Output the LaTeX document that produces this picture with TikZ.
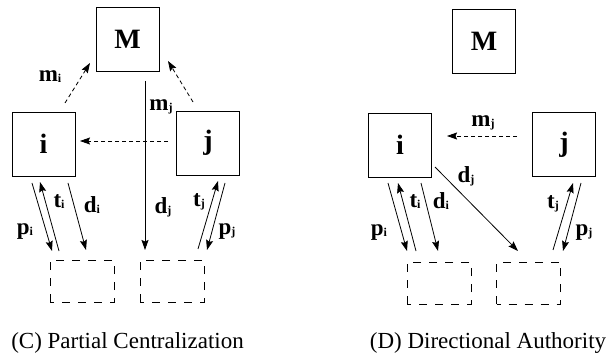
\documentclass[tikz,border=0pt]{standalone}
\usepackage{fontspec}
\setmainfont{Liberation Serif}
\usetikzlibrary{arrows.meta}
\newcommand{\lbl}[2]{\textbf{#1\raisebox{-1pt}{\fontsize{12}{12}\selectfont #2}}}
\begin{document}
\begin{tikzpicture}[x=1pt,y=-1pt,
  box/.style={draw, line width=0.9pt, inner sep=0pt, minimum width=63pt, minimum height=64pt, font=\fontsize{28}{28}\selectfont\bfseries},
  dbox/.style={draw, line width=0.9pt, dash pattern=on 8pt off 8pt, dash phase=4pt, minimum width=64pt, minimum height=42pt},
  arr/.style={-{Stealth[length=10pt,width=7pt,inset=1.5pt]}, line width=0.8pt},
  darr/.style={arr, dash pattern=on 4pt off 3pt},
  lab/.style={font=\fontsize{23}{23}\selectfont, inner sep=0pt},
  captext/.style={font=\fontsize{23}{23}\selectfont, inner sep=0pt, anchor=base}]
\useasboundingbox (0,0) rectangle (610,358);
% ---------- left panel (C) ----------
\node[box] (LM) at (127.5,39.5) {M};
\node[box] (Li) at (43.5,144) {i};
\node[box] (Lj) at (208,143) {j};
\node[dbox] (Ld1) at (82,281) {};
\node[dbox] (Ld2) at (172,281) {};
\coordinate (Lmi0) at (65,103); \coordinate (Lmi1) at (90,63);
\coordinate (Lmj0) at (193,102); \coordinate (Lmj1) at (168,61);
\coordinate (Lji0) at (168,141); \coordinate (Lji1) at (80,141);
\coordinate (Ldj0) at (145,81); \coordinate (Ldj1) at (145,250);
\coordinate (Lpi0) at (32,183); \coordinate (Lpi1) at (52,251);
\coordinate (Lti0) at (59,251); \coordinate (Lti1) at (40,182);
\coordinate (Ldi0) at (68,183); \coordinate (Ldi1) at (86,250);
\coordinate (Ltj0) at (198,249); \coordinate (Ltj1) at (218,181);
\coordinate (Lpj0) at (225,183); \coordinate (Lpj1) at (207,250);
\draw[darr] (Lmi0) -- (Lmi1);
\draw[darr] (Lmj0) -- (Lmj1);
\draw[darr] (Lji0) -- (Lji1);
\draw[arr] (Ldj0) -- (Ldj1);
\draw[arr] (Lpi0) -- (Lpi1);
\draw[arr] (Lti0) -- (Lti1);
\draw[arr] (Ldi0) -- (Ldi1);
\draw[arr] (Ltj0) -- (Ltj1);
\draw[arr] (Lpj0) -- (Lpj1);
\node[lab] (Llmi) at (50,77) {\lbl{m}{i}};
\node[lab] (Llmj) at (161,107) {\lbl{m}{j}};
\node[lab] (Llti) at (59,202) {\lbl{t}{i}};
\node[lab] (Lldi) at (92,205) {\lbl{d}{i}};
\node[lab] (Llpi) at (25,232) {\lbl{p}{i}};
\node[lab] (Lldj) at (163,207) {\lbl{d}{j}};
\node[lab] (Lltj) at (199,202) {\lbl{t}{j}};
\node[lab] (Llpj) at (227,232) {\lbl{p}{j}};
\node[captext] (Lcap) at (127.5,348) {(C) Partial Centralization};
% ---------- right panel (D) ----------
\node[box] (RM) at (484,41.5) {M};
\node[box] (Ri) at (400,145) {i};
\node[box] (Rj) at (564,144.5) {j};
\node[dbox] (Rd1) at (439,283) {};
\node[dbox] (Rd2) at (528.5,283) {};
\coordinate (Rmj0) at (517,136); \coordinate (Rmj1) at (447,136);
\coordinate (Rdj0) at (435,167); \coordinate (Rdj1) at (518,251);
\coordinate (Rpi0) at (388,183); \coordinate (Rpi1) at (407,251);
\coordinate (Rti0) at (416,251); \coordinate (Rti1) at (398,183);
\coordinate (Rdi0) at (421,183); \coordinate (Rdi1) at (438,251);
\coordinate (Rtj0) at (553,250); \coordinate (Rtj1) at (573,183);
\coordinate (Rpj0) at (581,183); \coordinate (Rpj1) at (563,251);
\draw[darr] (Rmj0) -- (Rmj1);
\draw[arr] (Rdj0) -- (Rdj1);
\draw[arr] (Rpi0) -- (Rpi1);
\draw[arr] (Rti0) -- (Rti1);
\draw[arr] (Rdi0) -- (Rdi1);
\draw[arr] (Rtj0) -- (Rtj1);
\draw[arr] (Rpj0) -- (Rpj1);
\node[lab] (Rlmj) at (483,123) {\lbl{m}{j}};
\node[lab] (Rldj) at (466,176) {\lbl{d}{j}};
\node[lab] (Rlti) at (415,202) {\lbl{t}{i}};
\node[lab] (Rldi) at (441,201) {\lbl{d}{i}};
\node[lab] (Rlpi) at (379,233) {\lbl{p}{i}};
\node[lab] (Rltj) at (553,204) {\lbl{t}{j}};
\node[lab] (Rlpj) at (584,233) {\lbl{p}{j}};
\node[captext] (Rcap) at (488,348) {(D) Directional Authority};
\end{tikzpicture}
\end{document}
